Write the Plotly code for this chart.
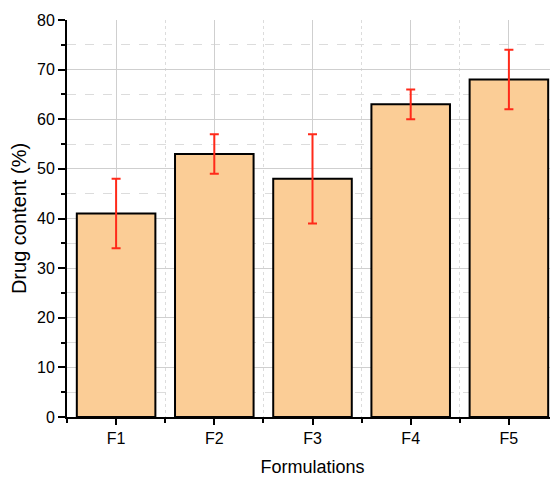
import plotly.graph_objects as go

categories = ["F1", "F2", "F3", "F4", "F5"]
drug_content = [41, 53, 48, 63, 68]
errors = [7, 4, 9, 3, 6]

xpos = list(range(len(categories)))

fig = go.Figure()
fig.add_trace(go.Bar(
    x=xpos, y=drug_content,
    width=0.8,
    marker=dict(color="#FBCD96", line=dict(color="black", width=2)),
    error_y=dict(type="data", array=errors, visible=True,
                 color="#FF2A1A", thickness=2, width=4.5),
))

# page body has an 8px margin, so the figure is sized/offset to compensate
fig.update_layout(
    width=550, height=475,
    margin=dict(l=59, r=0, t=12, b=66),
    plot_bgcolor="white", paper_bgcolor="white",
    showlegend=False,
    font=dict(family="Liberation Sans, Arial, sans-serif", size=16, color="black"),
)
fig.update_xaxes(
    range=[-0.5, 4.5],
    tickvals=xpos, ticktext=categories,
    ticks="outside", ticklen=6, tickwidth=1.5, tickcolor="black",
    showline=True, linecolor="black", linewidth=2,
    showgrid=True, gridcolor="#CFCFCF", gridwidth=1,
    minor=dict(tick0=0.5, dtick=1, ticks="outside", ticklen=4, tickcolor="black",
               showgrid=True, gridcolor="#DCDCDC", griddash="dot", gridwidth=1),
    title=dict(text="Formulations", font=dict(size=18), standoff=14),
    zeroline=False, automargin=False,
)
fig.update_yaxes(
    range=[0, 80], dtick=10,
    ticks="outside", ticklen=7, tickwidth=1.5, tickcolor="black",
    showline=True, linecolor="black", linewidth=2,
    showgrid=True, gridcolor="#CFCFCF", gridwidth=1,
    minor=dict(dtick=5, ticks="outside", ticklen=4, tickcolor="black",
               showgrid=True, gridcolor="#DCDCDC", griddash="dash", gridwidth=1),
    title=dict(text="Drug content (%)", font=dict(size=20), standoff=8),
    zeroline=False, automargin=False,
)

fig.write_html("out.html")
